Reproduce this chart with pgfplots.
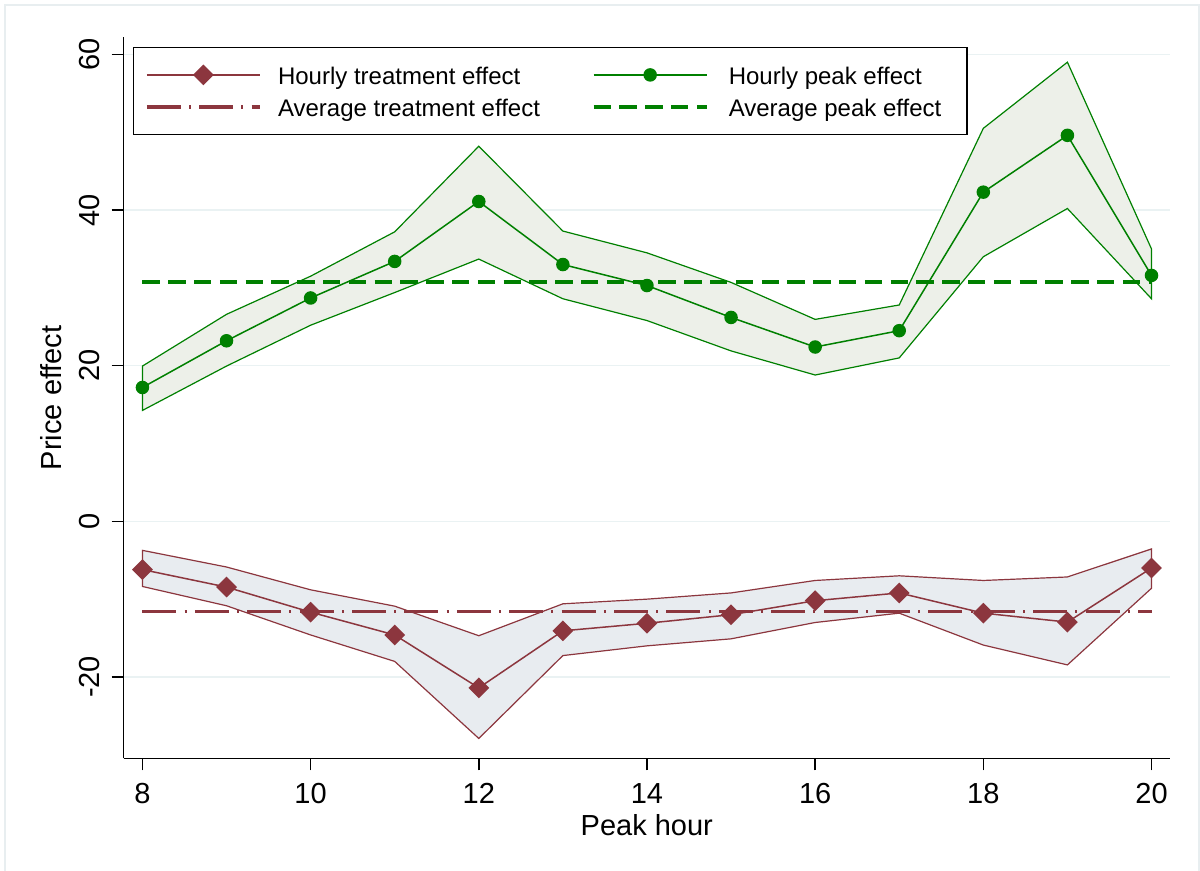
\documentclass[border=0pt]{standalone}
\usepackage{pgfplots}
\pgfplotsset{compat=1.18}
\usepackage{fontspec}
\setmainfont{Liberation Sans}
\definecolor{tred}{RGB}{140,54,62}
\definecolor{tgreen}{RGB}{0,128,0}
\definecolor{redfill}{RGB}{232,236,240}
\definecolor{greenfill}{RGB}{237,240,233}
\definecolor{gridc}{RGB}{234,242,243}
\definecolor{framec}{RGB}{232,238,240}
\begin{document}
\begin{tikzpicture}
\path[use as bounding box] (-61.8pt,-56.35pt) rectangle (538.2pt,379.15pt);
\draw[framec, line width=0.6pt] (-59.3pt,-60pt) -- (-59.3pt,376.65pt) -- (537.7pt,376.65pt) -- (537.7pt,-60pt);
\begin{axis}[
  at={(0pt,0pt)}, anchor=south west,
  scale only axis, width=523.2pt, height=360.5pt,
  xmin=7.776, xmax=20.22, ymin=-30.45, ymax=62.2,
  axis x line*=bottom, axis y line*=left,
  axis line style={black, line width=0.75pt},
  xtick={8,10,...,20}, ytick={-20,0,20,40,60},
  tick align=outside, major tick length=6pt,
  tick style={black, line width=0.75pt},
  /pgf/number format/assume math mode=true,
  ticklabel style={font=\fontsize{14.5}{16}\selectfont},
  xticklabel style={anchor=north, inner sep=0pt, yshift=-6.5pt},
  yticklabel style={xshift=-5.75pt, rotate=90, anchor=south, inner sep=0pt},
  ymajorgrids, grid style={gridc, line width=0.75pt},
  xlabel={Peak hour}, ylabel={Price effect},
  label style={font=\fontsize{14.5}{16}\selectfont},
  xlabel style={at={(axis description cs:0.5,0)}, anchor=base, yshift=-38.8pt},
  ylabel style={at={(axis description cs:-0.0688,0.5)}, anchor=center},
  legend columns=2,
  legend style={at={(0.0088,0.987)}, anchor=north west, draw=black, line width=0.75pt,
    font=\fontsize{12}{14}\selectfont, inner xsep=5.75pt, inner ysep=6.5pt, row sep=1.5pt,
    nodes={inner xsep=0pt, inner ysep=0pt, text height=12pt, text depth=2.5pt},
    /tikz/every odd column/.append style={column sep=8.2pt},
    /tikz/every even column/.append style={column sep=26pt}},
  legend cell align=left,
  legend image code/.code={\draw[#1, mark repeat=2, mark phase=2] plot coordinates {(0pt,0pt) (28.25pt,0pt) (56.5pt,0pt)};},
]
% confidence bands
\addplot[forget plot, draw=tgreen, line width=0.6pt, fill=greenfill] coordinates {
(8,19.95) (9,26.6) (10,31.5) (11,37.2) (12,48.2) (13,37.3) (14,34.5) (15,30.7) (16,25.95) (17,27.8) (18,50.5) (19,59.0) (20,35.0)
(20,28.6) (19,40.2) (18,34.0) (17,21.0) (16,18.8) (15,21.9) (14,25.8) (13,28.6) (12,33.7) (11,29.4) (10,25.2) (9,19.95) (8,14.25)
} -- cycle;
\addplot[forget plot, draw=tred, line width=0.6pt, fill=redfill] coordinates {
(8,-3.73) (9,-5.87) (10,-8.8) (11,-10.9) (12,-14.7) (13,-10.6) (14,-10.0) (15,-9.2) (16,-7.6) (17,-7.0) (18,-7.6) (19,-7.15) (20,-3.55)
(20,-8.6) (19,-18.45) (18,-15.9) (17,-11.8) (16,-13.0) (15,-15.1) (14,-16.0) (13,-17.25) (12,-27.9) (11,-18.0) (10,-14.6) (9,-10.85) (8,-8.37)
} -- cycle;
% averages
\addplot[forget plot, tgreen, line width=1.7pt, dash pattern=on 8.7pt off 4.2pt] coordinates {(8,30.76) (20,30.76)};
\addplot[forget plot, tred, line width=1.8pt, dash pattern=on 17pt off 4.1pt on 1pt off 4.1pt] coordinates {(8,-11.6) (20,-11.6)};
% hourly effects
\addplot[forget plot, tgreen, line width=0.75pt, mark=*, mark size=3pt, mark options={solid, fill=tgreen}] coordinates {
(8,17.2) (9,23.2) (10,28.7) (11,33.4) (12,41.1) (13,33.0) (14,30.3) (15,26.2) (16,22.4) (17,24.5) (18,42.3) (19,49.6) (20,31.6)};
\addplot[forget plot, tred, line width=0.75pt, mark=square*, mark size=3.3pt, mark options={solid, rotate=45, fill=tred}] coordinates {
(8,-6.2) (9,-8.45) (10,-11.67) (11,-14.6) (12,-21.4) (13,-14.07) (14,-13.1) (15,-12.0) (16,-10.2) (17,-9.2) (18,-11.8) (19,-12.95) (20,-6.0)};
% legend
\addlegendimage{tred, line width=0.75pt, mark=square*, mark size=3.3pt, mark options={solid, rotate=45, fill=tred}}
\addlegendentry{Hourly treatment effect}
\addlegendimage{tgreen, line width=0.75pt, mark=*, mark size=3pt, mark options={solid, fill=tgreen}}
\addlegendentry{\hspace*{2pt}Hourly peak effect}
\addlegendimage{tred, line width=1.8pt, dash pattern=on 17pt off 4.1pt on 1pt off 4.1pt}
\addlegendentry{Average treatment effect}
\addlegendimage{tgreen, line width=1.7pt, dash pattern=on 8.7pt off 4.2pt}
\addlegendentry{\hspace*{2pt}Average peak effect\hspace*{7pt}}
\end{axis}
\end{tikzpicture}
\end{document}
